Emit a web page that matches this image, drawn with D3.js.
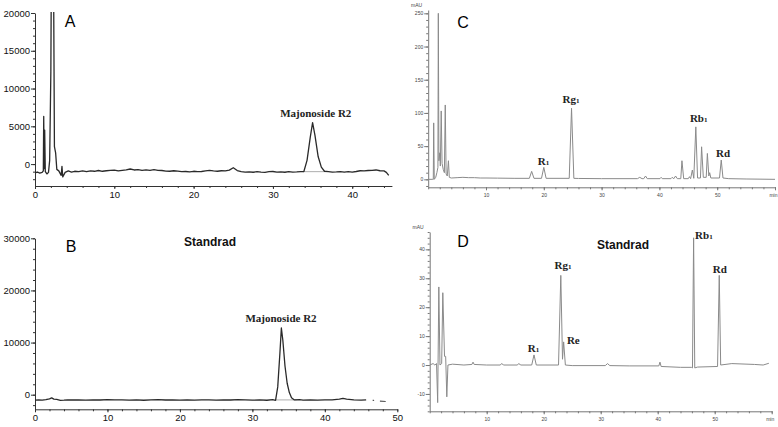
<!DOCTYPE html>
<html>
<head>
<meta charset="utf-8">
<script src="https://cdn.jsdelivr.net/npm/d3@7"></script>
<style>
  body { margin: 0; background: #fff; }
  svg { display: block; }
</style>
</head>
<body>
<svg width="778" height="427"></svg>
<script>

// --- panel A : sample, ELSD (time in min, signal) ---
var traceA = [
  [0.0,-1150],[0.3,-1050],[0.6,-1200],[0.9,-1100],[1.05,-900],[1.1,6300],[1.15,-600],[1.22,4500],
  [1.3,-1000],[1.5,-1300],[1.7,-1100],[1.85,500],[2.0,12300],[2.05,23000],[2.35,23000],[2.45,2300],
  [2.6,1500],[2.75,-700],[3.0,-900],[3.3,-1500],[3.4,-300],[3.5,-1700],[3.8,-1100],[4.2,-900],
  [4.6,-1050],[5,-950],[5.5,-1000],[6,-900],[6.5,-1000],[7,-900],[7.5,-950],[8,-850],[8.5,-950],
  [9,-880],[9.5,-820],[10,-800],[10.5,-900],[11,-820],[11.5,-760],[12,-650],[12.5,-780],[13,-720],
  [13.5,-820],[14,-760],[14.5,-830],[15,-740],[15.5,-820],[16,-850],[16.5,-930],[17,-950],[17.5,-880],
  [18,-920],[18.5,-1000],[19,-980],[19.5,-1040],[20,-950],[20.5,-1000],[21,-980],[21.5,-900],[22,-820],
  [22.5,-900],[23,-950],[23.5,-880],[24,-900],[24.5,-800],[25,-480],[25.5,-850],[26,-1000],[26.5,-1050],
  [27,-1020],[27.5,-1080],[28,-1000],[28.5,-1060],[29,-1100],[29.5,-1000],[30,-980],[30.5,-1060],
  [31,-1040],[31.5,-1080],[32,-1000],[32.5,-1060],[33,-1040],[33.5,-1000],[33.9,-980],[34.3,500],
  [34.7,3500],[35.0,5500],[35.3,3800],[35.7,1000],[36.1,-400],[36.5,-950],[37,-1000],[37.5,-1060],
  [38,-1040],[38.5,-1000],[39,-1060],[39.5,-1000],[40,-1050],[40.5,-980],[41,-880],[41.5,-900],
  [42,-850],[42.5,-820],[43,-780],[43.5,-880],[44,-900],[44.3,-1100],[44.6,-1500]
];
var baseA = [[33.8,-1000],[36.6,-1000]];
var labelA = [{name: "Majonoside R2", t: 35.4, v: 6200}];

// --- panel B : standard ---
var traceB = [
  [0.0,-1050],[0.5,-1000],[1,-1050],[1.5,-950],[2,-800],[2.3,-600],[2.6,-850],[3,-900],[3.5,-1100],
  [4,-1050],[4.5,-980],[5,-1020],[6,-1000],[7,-1050],[8,-980],[9,-1020],[10,-950],[11,-1000],
  [12,-980],[13,-1040],[14,-1000],[15,-1060],[16,-1000],[17,-950],[18,-1020],[19,-1000],[20,-1040],
  [21,-1000],[22,-1050],[23,-1000],[24,-980],[25,-1040],[26,-1000],[27,-1020],[28,-960],[29,-1000],
  [30,-1050],[31,-1000],[32,-1060],[32.8,-950],[33.2,-1100],[33.5,1500],[33.8,8000],[34.0,12800],
  [34.2,10500],[34.5,5500],[34.8,2200],[35.1,400],[35.4,-600],[35.8,-1000],[36.5,-950],[37,-1050],
  [38,-1000],[39,-1040],[40,-980],[41,-1000],[42,-850],[42.5,-700],[43,-850],[44,-1000],[45,-1050],
  [45.7,-980]
];
var tailB = [
  [[46.6,-1100],[46.8,-1100]],
  [[47.6,-1250],[48.4,-1300]]
];
var baseB = [[33.2,-1000],[36.1,-1000]];
var labelB = [{name: "Majonoside R2", t: 33.95, v: 14000}];

// --- panel C : sample, UV (mAU) ---
var traceC = [
  [0,0],[0.7,0],[0.88,0],[0.95,85],[1.05,0],[1.3,3],[1.5,10],[1.68,18],[1.75,250],[1.85,28],
  [2.0,40],[2.1,20],[2.25,103],[2.4,24],[2.6,15],[2.8,10],[2.95,112],[3.1,8],[3.3,5],[3.5,28],
  [3.65,3],[4,2],[5,2.5],[6,3],[7,2.5],[8,2.5],[9,2],[10,2],[12,1.8],[15,1.5],[17.5,1.5],[17.9,12],
  [18.3,1.5],[19.6,1.5],[20,18],[20.4,1.5],[24.4,1.5],[24.8,107],[25.2,1.5],[26,1.3],[30,1],
  [36.2,1],[36.6,3],[37,1],[37.3,1],[37.6,5],[37.9,1],[40.1,1],[40.3,3],[40.5,1],[42,1],[42.2,3],
  [42.5,1],[42.8,5],[43.1,1],[43.7,1],[43.9,28],[44.2,1],[45.0,1],[45.2,4],[45.4,1],[45.7,14],
  [45.95,1.5],[46.3,79],[46.6,2],[47.1,2],[47.3,49],[47.6,3],[48.1,3],[48.3,39],[48.55,5],
  [48.7,10],[48.9,2],[50.4,2],[50.7,29],[51.0,2],[52,1],[55,0.5],[60,0]
];
var labelsC = [
  {name: "R", sub: "1", t: 19.95, v: 21.5},
  {name: "Rg", sub: "1", t: 24.7, v: 115},
  {name: "Rb", sub: "1", t: 46.8, v: 86.7},
  {name: "Rd", sub: "", t: 51.0, v: 33.6}
];

// --- panel D : standard, UV (mAU) ---
var traceD = [
  [0,0],[0.6,0.5],[0.9,0],[1.2,0.5],[1.4,-13],[1.6,27],[1.8,0],[2.1,0.5],[2.3,25],[2.6,3],
  [2.8,3],[3.0,-11],[3.2,0],[4,0.3],[6,0],[7.4,0.2],[7.6,1],[7.8,0.2],[10,0],[12.4,0],[12.6,0.5],
  [13,0],[15.4,0],[15.6,0.5],[16,0],[17.9,0],[18.3,3.5],[18.7,0],[22.6,0],[23.0,31],[23.3,2],
  [23.5,8],[23.8,0],[25,-0.2],[30.8,-0.2],[31.2,0.5],[31.6,-0.2],[35,-0.3],[40.2,-0.3],[40.4,1],
  [40.6,-0.5],[44,-0.8],[45.9,-0.8],[46.1,-1],[46.3,44],[46.5,-1],[47,-0.7],[50.5,-0.5],[50.8,31],
  [51.05,0],[53,0.5],[57,0.2],[58.5,0],[59.5,0.6]
];
var labelsD = [
  {name: "R", sub: "1", t: 18.2, v: 4.6},
  {name: "Rg", sub: "1", t: 23.4, v: 33.2},
  {name: "Re", sub: "", t: 25.2, v: 7.3},
  {name: "Rb", sub: "1", t: 48.1, v: 43.6},
  {name: "Rd", sub: "", t: 50.9, v: 31.8}
];

var svg = d3.select("svg");

var panels = [
  {id: "A", trace: traceA, extra: [baseA], tails: [], labels: labelA,
   xDom: [0, 45], xRange: [35, 391.9], yDom: [-2900, 20000], yRange: [186, 13],
   xMajor: [0, 10, 20, 30, 40], xMinor: d3.range(0, 45, 2),
   yMajor: [0, 5000, 10000, 15000, 20000], yMinor: d3.range(-2000, 20001, 1000),
   letter: [70, 27], standrad: null, uv: false},
  {id: "B", trace: traceB, extra: [baseB], tails: tailB, labels: labelB,
   xDom: [0, 50], xRange: [35, 397.3], yDom: [-2800, 30000], yRange: [409.3, 238.3],
   xMajor: [0, 10, 20, 30, 40, 50], xMinor: d3.range(0, 51, 2),
   yMajor: [0, 10000, 20000, 30000], yMinor: d3.range(-2000, 30001, 2000),
   letter: [71, 252], standrad: [184, 246], uv: false},
  {id: "C", trace: traceC, extra: [], tails: [], labels: labelsC,
   xDom: [0, 60], xRange: [428.2, 775], yDom: [-12, 255], yRange: [187.3, 10],
   xMajor: [10, 20, 30, 40, 50, 60], xMinor: d3.range(0, 61, 2),
   yMajor: [0, 50, 100, 150, 200, 250], yMinor: d3.range(-10, 251, 10),
   letter: [463, 28], standrad: null, uv: true},
  {id: "D", trace: traceD, extra: [], tails: [], labels: labelsD,
   xDom: [0, 60], xRange: [429.7, 771.7], yDom: [-16, 46], yRange: [411.3, 232],
   xMajor: [10, 20, 30, 40, 50, 60], xMinor: d3.range(0, 61, 2),
   yMajor: [-10, 0, 10, 20, 30, 40], yMinor: d3.range(-16, 47, 2),
   letter: [463, 247], standrad: [597, 249], uv: true}
];

panels.forEach(function(p) {
  var x = d3.scaleLinear().domain(p.xDom).range(p.xRange);
  var y = d3.scaleLinear().domain(p.yDom).range(p.yRange);
  var axisCol = p.uv ? "#777" : "#333";
  var textCol = p.uv ? "#444" : "#111";
  var fs = p.uv ? 5 : 9.5;

  var g = svg.append("g").attr("class", "panel-" + p.id);

  g.append("clipPath").attr("id", "clip" + p.id)
    .append("rect")
    .attr("x", p.xRange[0]).attr("y", p.yRange[1] - 1)
    .attr("width", p.xRange[1] - p.xRange[0] + 4)
    .attr("height", p.yRange[0] - p.yRange[1] + 1);

  // minor ticks
  var yMin = g.append("g").attr("transform", "translate(" + p.xRange[0] + ",0)")
    .call(d3.axisLeft(y).tickValues(p.yMinor).tickSize(2).tickFormat(""));
  var xMin = g.append("g").attr("transform", "translate(0," + p.yRange[0] + ")")
    .call(d3.axisBottom(x).tickValues(p.xMinor).tickSize(2).tickFormat(""));
  [yMin, xMin].forEach(function(a) {
    a.select(".domain").remove();
    a.selectAll("line").attr("stroke", axisCol);
  });

  // major axes
  var yAx = g.append("g").attr("transform", "translate(" + p.xRange[0] + ",0)")
    .call(d3.axisLeft(y).tickValues(p.yMajor).tickSize(4).tickSizeOuter(0).tickPadding(1)
      .tickFormat(function(d) { return String(d); }));
  var xAx = g.append("g").attr("transform", "translate(0," + p.yRange[0] + ")")
    .call(d3.axisBottom(x).tickValues(p.xMajor).tickSize(3).tickSizeOuter(0)
      .tickPadding(p.uv ? 3 : 2)
      .tickFormat(function(d) { return (p.uv && d == 60) ? "min" : String(d); }));
  [yAx, xAx].forEach(function(a) {
    a.select(".domain").attr("stroke", axisCol);
    a.selectAll("line").attr("stroke", axisCol);
    a.selectAll("text").attr("fill", textCol)
      .style("font-family", "'Liberation Sans', Arial, sans-serif")
      .style("font-size", fs + "px");
  });
  if (p.uv) {
    xAx.selectAll("text").filter(function(d) { return d == 60; })
      .attr("text-anchor", "end").attr("dx", 2);
  }

  if (p.uv) {
    g.append("text").attr("x", p.xRange[0] - 6).attr("y", p.yRange[1] - 3)
      .attr("text-anchor", "end").attr("fill", textCol)
      .style("font-family", "'Liberation Sans', Arial, sans-serif")
      .style("font-size", "5px").text("mAU");
  }

  var line = d3.line()
    .x(function(d) { return x(d[0]); })
    .y(function(d) { return y(d[1]); });

  var plot = g.append("g").attr("clip-path", "url(#clip" + p.id + ")");

  p.extra.forEach(function(seg) {
    plot.append("path").datum(seg).attr("d", line)
      .attr("fill", "none").attr("stroke", "#999").attr("stroke-width", 0.8);
  });

  plot.append("path").datum(p.trace).attr("d", line)
    .attr("fill", "none")
    .attr("stroke", p.uv ? "#8a8a8a" : "#2a2a2a")
    .attr("stroke-width", p.uv ? 1 : 1.3)
    .attr("stroke-linejoin", "round");

  p.tails.forEach(function(seg) {
    plot.append("path").datum(seg).attr("d", line)
      .attr("fill", "none").attr("stroke", "#555").attr("stroke-width", 1.2);
  });

  // peak names
  p.labels.forEach(function(l) {
    var t = g.append("text")
      .attr("x", x(l.t)).attr("y", y(l.v))
      .attr("text-anchor", "middle")
      .attr("fill", "#222")
      .style("font-family", "'Liberation Serif', 'Times New Roman', serif")
      .style("font-weight", "bold")
      .style("font-size", "11px")
      .text(l.name);
    if (l.sub) {
      t.append("tspan").style("font-size", "7px").text(l.sub);
    }
  });

  g.append("text").attr("x", p.letter[0]).attr("y", p.letter[1])
    .attr("text-anchor", "middle").attr("fill", "#000")
    .style("font-family", "'Liberation Sans', Arial, sans-serif")
    .style("font-size", "16px").text(p.id);

  if (p.standrad) {
    g.append("text").attr("x", p.standrad[0]).attr("y", p.standrad[1])
      .attr("fill", "#111")
      .style("font-family", "'Liberation Sans', Arial, sans-serif")
      .style("font-weight", "bold")
      .style("font-size", "12px").text("Standrad");
  }
});

</script>
</body>
</html>
